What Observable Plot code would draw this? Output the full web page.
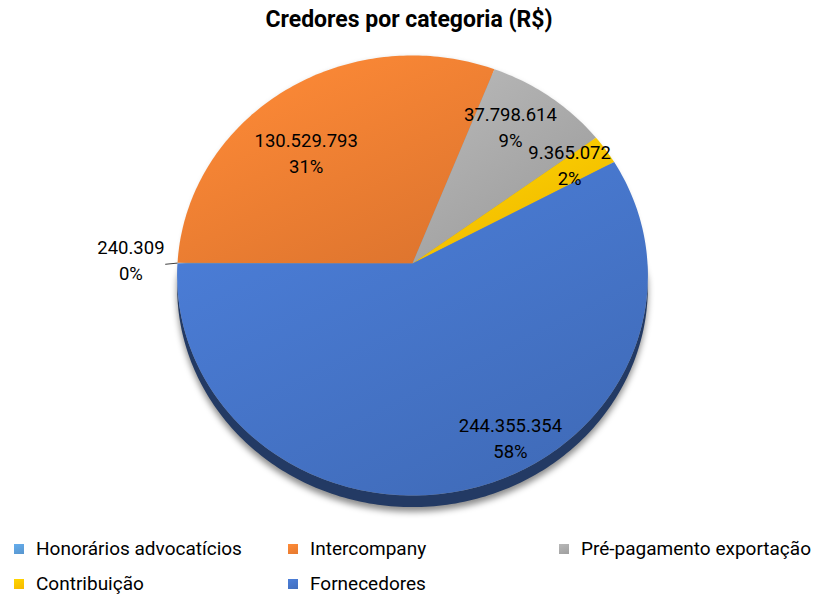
<!DOCTYPE html>
<html><head><meta charset="utf-8">
<script src="https://cdn.jsdelivr.net/npm/d3@7"></script>
<script src="https://cdn.jsdelivr.net/npm/@observablehq/plot@0.6"></script>
<style>
body{margin:0;background:#fff;font-family:Roboto,"Noto Sans",sans-serif;}
#wrap{position:relative;width:818px;height:596px;overflow:hidden}
#title{height:40px;line-height:40px;text-align:center;font-weight:bold;font-size:23px;color:#000}
#chart{height:480px}
#legend{position:relative;height:76px}
.item{position:absolute;display:flex;align-items:center;font-size:19px;line-height:20px;color:#000;white-space:nowrap;transform:translateY(-50%)}
.sw{width:10px;height:10px;margin-right:12px}
</style></head><body>
<svg width="0" height="0" style="position:absolute"><defs id="defs"></defs></svg>
<div id="wrap"><div id="title"></div><div id="chart"></div><div id="legend"></div></div>
<script>
const title = "Credores por categoria (R$)";
const categories = ["Honorários advocatícios","Intercompany","Pré-pagamento exportação","Contribuição","Fornecedores"];
const values = [240309, 130529793, 37798614, 9365072, 244355354];
const colors = ["#5B9BD5","#ED7D31","#A5A5A5","#FFC000","#4472C4"];

// label placement (styling): angle offset from slice middle (deg) and radius fraction
const labelShift = [1, -7.5, -4, -2, -13.7];
const labelRadius = [1.2, 0.70, 0.78, 0.83, 0.855];

const fmt = d3.formatLocale({thousands:".", decimal:",", grouping:[3], currency:["R$ ",""]}).format(",");
const total = d3.sum(values);
const pct = values.map(v => Math.round(v / total * 100) + "%");

document.getElementById("title").textContent = title;

// gradients
const defs = d3.select("#defs");
colors.forEach((c, i) => {
  const g = defs.append("linearGradient").attr("id", "g" + i)
    .attr("x1", 0.15).attr("y1", 0).attr("x2", 0.85).attr("y2", 1);
  g.append("stop").attr("offset", 0).attr("stop-color", d3.color(c).brighter(0.3).formatHex());
  g.append("stop").attr("offset", 1).attr("stop-color", d3.color(c).darker(0.2).formatHex());
});
defs.append("filter").attr("id", "blur").attr("x", "-10%").attr("y", "-10%").attr("width", "120%").attr("height", "120%")
  .append("feGaussianBlur").attr("stdDeviation", 3);

// perspective projection of a point on the tilted pie (unit radius)
const p = 0.0545;
function proj(r, deg, dy = 0) {
  const a = deg * Math.PI / 180;
  const sx = r * Math.sin(a), sy = -r * Math.cos(a);
  const k = 1 / (1 - p * sy);
  return {x: sx * k, y: sy * (1 - p) * k + dy};
}

const arcs = d3.pie().sort(null).startAngle(-Math.PI / 2).endAngle(1.5 * Math.PI)(values);
const deg = r => r * 180 / Math.PI;

function arcPts(a0, a1, r = 1, dy = 0) {
  const n = Math.max(2, Math.ceil(Math.abs(a1 - a0)));
  return d3.range(n + 1).map(j => proj(r, a0 + (a1 - a0) * j / n, dy));
}

const D = 0.05; // depth of the rim in y units
const slices = arcs.map((a, i) => [proj(0, 0), ...arcPts(deg(a.startAngle), deg(a.endAngle))]);

// rim for front-facing part (90°..270°)
const rims = [];
arcs.forEach((a, i) => {
  let s = deg(a.startAngle), e = deg(a.endAngle);
  for (const off of [0, 360, -360]) {
    const lo = Math.max(s + off, 90), hi = Math.min(e + off, 270);
    if (hi > lo) {
      const top = arcPts(lo, hi);
      const bot = arcPts(lo, hi, 1, D).reverse();
      rims.push({i, pts: [...top, ...bot]});
    }
  }
});
const shadow = [...arcPts(90, 270, 1.0, D + 0.02), ...arcPts(270, 450, 0.98, 0)];

const labels = arcs.map((a, i) => {
  const mid = deg((a.startAngle + a.endAngle) / 2) + labelShift[i];
  return {...proj(labelRadius[i], mid), text: fmt(values[i]) + "\n" + pct[i]};
});
const h = arcs[0];
const hMid = deg((h.startAngle + h.endAngle) / 2);
const l0 = proj(1.052, hMid - 0.3), l1 = proj(1.0, hMid);
const leader = [{x1: l0.x, y1: l0.y, x2: l1.x, y2: l1.y}];

const cy = 223;
const chart = Plot.plot({
  width: 818, height: 480,
  margin: 0,
  x: {domain: [-1, 1], range: [177, 647], axis: null},
  y: {domain: [-1, 1], range: [cy - 232, cy + 232], axis: null},
  marks: [
    Plot.line(shadow, {x: "x", y: "y", fill: "#000", fillOpacity: 0.45, stroke: "none", curve: "linear-closed"}),
    ...rims.map(r => Plot.line(r.pts, {x: "x", y: "y", fill: d3.color(colors[r.i]).darker(1.9).formatHex(), stroke: "none", curve: "linear-closed"})),
    ...slices.map((pts, i) => Plot.line(pts, {x: "x", y: "y", fill: `url(#g${i})`, stroke: "none", curve: "linear-closed"})),
    Plot.link(leader, {x1: "x1", y1: "y1", x2: "x2", y2: "y2", stroke: "#404040", strokeWidth: 1}),
    Plot.text(labels, {x: "x", y: "y", text: "text", fontSize: 18.5, lineHeight: 1.4, fill: "#000", fontFamily: "Roboto, 'Noto Sans', sans-serif"})
  ]
});
chart.querySelector("g[aria-label='line']").setAttribute("filter", "url(#blur)");
document.getElementById("chart").appendChild(chart);

// legend
const cols = [14, 288, 559], rows = [29, 64];
const leg = d3.select("#legend");
categories.forEach((c, i) => {
  const it = leg.append("div").attr("class", "item")
    .style("left", cols[i % 3] + "px").style("top", rows[Math.floor(i / 3)] + "px");
  it.append("div").attr("class", "sw").style("background", `linear-gradient(160deg, ${d3.color(colors[i]).brighter(0.3).formatHex()}, ${d3.color(colors[i]).darker(0.1).formatHex()})`);
  it.append("span").text(c);
});
</script></body></html>
